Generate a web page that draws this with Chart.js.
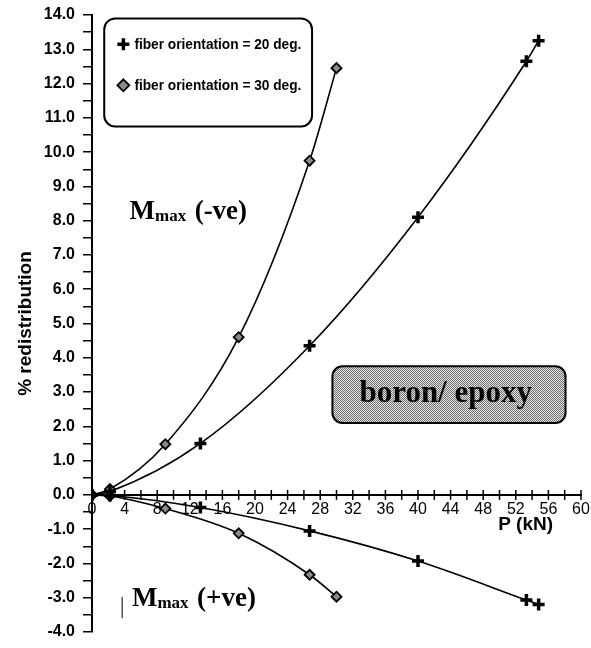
<!DOCTYPE html>
<html>

<head>
    <meta charset="utf-8">
    <script src="https://cdn.jsdelivr.net/npm/chart.js"></script>
    <title>% redistribution vs P</title>
    <style>
        html, body {
            margin: 0;
            padding: 0;
            background: #fff;
        }
    </style>
</head>

<body>
    <canvas id="chart" width="591" height="648"></canvas>
    <script>
        // P (kN) and % redistribution
        const load20 = [0, 2.2, 13.3, 26.7, 40, 53.3, 54.8]
        const negMoment20 = [0, 0.1, 1.5, 4.35, 8.1, 12.65, 13.25]
        const posMoment20 = [0, -0.02, -0.37, -1.05, -1.93, -3.07, -3.2]

        const load30 = [0, 2.2, 9, 18, 26.7, 30]
        const negMoment30 = [0, 0.17, 1.48, 4.6, 9.75, 12.45]
        const posMoment30 = [0, -0.03, -0.4, -1.12, -2.33, -2.97]

        const seriesNames = ['fiber orientation = 20 deg.', 'fiber orientation = 30 deg.']
        const xTickLabels = [0, 4, 8, 12, 16, 20, 24, 28, 32, 36, 40, 44, 48, 52, 56, 60]

        function pts(xs, ys) {
            return xs.map(function (x, i) {
                return { x: x, y: ys[i] }
            })
        }

        const plusStyle = {
            pointStyle: 'cross',
            pointRadius: 6,
            pointBorderWidth: 3.5,
            pointBorderColor: '#000',
            pointBackgroundColor: '#000'
        }
        const diamondStyle = {
            pointStyle: 'rectRot',
            pointRadius: 5,
            pointBorderWidth: 1.8,
            pointBorderColor: '#000',
            pointBackgroundColor: '#8a8a8a'
        }

        function line(data, marker) {
            return Object.assign({
                data: data,
                showLine: true,
                borderColor: '#000',
                borderWidth: 1.6,
                cubicInterpolationMode: 'monotone'
            }, marker)
        }

        // stippled grey fill for the material label
        function stipple() {
            const c = document.createElement('canvas')
            c.width = 2
            c.height = 2
            const g = c.getContext('2d')
            g.fillStyle = '#e6e6e6'
            g.fillRect(0, 0, 2, 2)
            g.fillStyle = '#6e6e6e'
            g.fillRect(0, 0, 1, 1)
            g.fillRect(1, 1, 1, 1)
            return c
        }

        function roundBox(ctx, x0, y0, x1, y1, r) {
            ctx.beginPath()
            ctx.moveTo(x0 + r, y0)
            ctx.arcTo(x1, y0, x1, y1, r)
            ctx.arcTo(x1, y1, x0, y1, r)
            ctx.arcTo(x0, y1, x0, y0, r)
            ctx.arcTo(x0, y0, x1, y0, r)
            ctx.closePath()
        }

        function mmax(ctx, x, y, tail) {
            ctx.fillStyle = '#000'
            ctx.textAlign = 'left'
            ctx.textBaseline = 'alphabetic'
            ctx.font = 'bold 27px "Liberation Serif"'
            ctx.fillText('M', x, y)
            let w = ctx.measureText('M').width
            ctx.font = 'bold 17px "Liberation Serif"'
            ctx.fillText('max', x + w, y + 2)
            w += ctx.measureText('max  ').width
            ctx.font = 'bold 27px "Liberation Serif"'
            ctx.fillText(tail, x + w, y)
        }

        const extras = {
            id: 'extras',
            afterDraw: function (chart) {
                const ctx = chart.ctx
                const xs = chart.scales.x
                const ys = chart.scales.y
                const X = v => xs.getPixelForValue(v)
                const Y = v => ys.getPixelForValue(v)

                ctx.save()
                // x ticks crossing the axis line
                ctx.strokeStyle = '#000'
                ctx.lineWidth = 1.5
                const y0 = Y(0)
                for (let v = 0; v <= 60; v += 2) {
                    ctx.beginPath()
                    ctx.moveTo(X(v), y0 - 5)
                    ctx.lineTo(X(v), y0 + 5)
                    ctx.stroke()
                }

                // P (kN)
                ctx.fillStyle = '#000'
                ctx.font = 'bold 19px "Liberation Sans"'
                ctx.textAlign = 'center'
                ctx.textBaseline = 'middle'
                ctx.fillText('P (kN)', X(53.2), Y(-0.88))

                // legend box
                ctx.lineWidth = 2
                roundBox(ctx, X(1.5), Y(13.9), X(27), Y(10.75), 11)
                ctx.fillStyle = '#fff'
                ctx.fill()
                ctx.stroke()
                const lx = X(3.85)
                const rows = [Y(13.15), Y(11.95)]
                ctx.fillStyle = '#000'
                ctx.lineWidth = 3.5
                ctx.beginPath()
                ctx.moveTo(lx - 6, rows[0]); ctx.lineTo(lx + 6, rows[0])
                ctx.moveTo(lx, rows[0] - 6); ctx.lineTo(lx, rows[0] + 6)
                ctx.stroke()
                ctx.beginPath()
                ctx.moveTo(lx, rows[1] - 6); ctx.lineTo(lx + 6, rows[1])
                ctx.lineTo(lx, rows[1] + 6); ctx.lineTo(lx - 6, rows[1])
                ctx.closePath()
                ctx.fillStyle = '#8a8a8a'
                ctx.fill()
                ctx.lineWidth = 1.8
                ctx.stroke()
                ctx.fillStyle = '#000'
                ctx.font = 'bold 15px "Liberation Sans"'
                ctx.textAlign = 'left'
                seriesNames.forEach(function (name, i) {
                    ctx.fillText(name, X(5.2), rows[i] + 1, 167)
                })

                // material label
                roundBox(ctx, X(29.5), Y(3.75), X(58.1), Y(2.1), 10)
                ctx.fillStyle = ctx.createPattern(stipple(), 'repeat')
                ctx.fill()
                ctx.lineWidth = 2
                ctx.strokeStyle = '#000'
                ctx.stroke()
                ctx.fillStyle = '#000'
                ctx.font = 'bold 31px "Liberation Serif"'
                ctx.textAlign = 'center'
                ctx.textBaseline = 'alphabetic'
                ctx.fillText('boron/ epoxy', X(43.4), Y(2.72))

                // moment labels
                mmax(ctx, X(4.6), Y(8.05), '(-ve)')
                mmax(ctx, X(4.9), Y(-3.24), '(+ve)')
                ctx.lineWidth = 1
                ctx.beginPath()
                ctx.moveTo(X(3.7), Y(-2.98))
                ctx.lineTo(X(3.7), Y(-3.6))
                ctx.stroke()
                ctx.restore()
            }
        }

        const ctx = document.getElementById('chart')
        new Chart(ctx, {
            type: 'scatter',
            data: {
                datasets: [
                    line(pts(load20, negMoment20), plusStyle),
                    line(pts(load30, negMoment30), diamondStyle),
                    line(pts(load20, posMoment20), plusStyle),
                    line(pts(load30, posMoment30), diamondStyle)
                ]
            },
            options: {
                responsive: false,
                animation: false,
                devicePixelRatio: 1,
                layout: {
                    padding: { left: 0, right: 10, top: 15, bottom: 16 }
                },
                plugins: {
                    legend: { display: false },
                    tooltip: { enabled: false }
                },
                scales: {
                    x: {
                        type: 'linear',
                        position: { y: 0 },
                        min: 0,
                        max: 60,
                        afterFit: function (scale) {
                            scale.paddingLeft = 0
                            scale.paddingRight = 0
                        },
                        grid: { display: false, tickLength: 0 },
                        border: { display: true, color: '#000', width: 2 },
                        ticks: {
                            stepSize: 2,
                            autoSkip: false,
                            maxRotation: 0,
                            padding: 5,
                            color: '#000',
                            font: { family: 'Liberation Sans', size: 16 },
                            callback: function (v) {
                                return xTickLabels.includes(v) ? String(v) : ''
                            }
                        }
                    },
                    y: {
                        type: 'linear',
                        min: -4,
                        max: 14,
                        afterFit: function (scale) {
                            scale.width = 92
                            scale.paddingTop = 0
                            scale.paddingBottom = 0
                        },
                        grid: {
                            drawOnChartArea: false,
                            drawTicks: true,
                            tickLength: 9,
                            color: '#000',
                            lineWidth: 1.5
                        },
                        border: { display: true, color: '#000', width: 2 },
                        ticks: {
                            stepSize: 0.5,
                            autoSkip: false,
                            padding: 8,
                            color: '#000',
                            font: { family: 'Liberation Sans', size: 16, weight: 'bold' },
                            callback: function (v) {
                                return Number.isInteger(v) ? v.toFixed(1) : ''
                            }
                        },
                        title: {
                            display: true,
                            text: '% redistribution',
                            color: '#000',
                            font: { family: 'Liberation Sans', size: 19, weight: 'bold' },
                            padding: { top: 14, bottom: 0 }
                        }
                    }
                }
            },
            plugins: [extras]
        })
    </script>
</body>

</html>
